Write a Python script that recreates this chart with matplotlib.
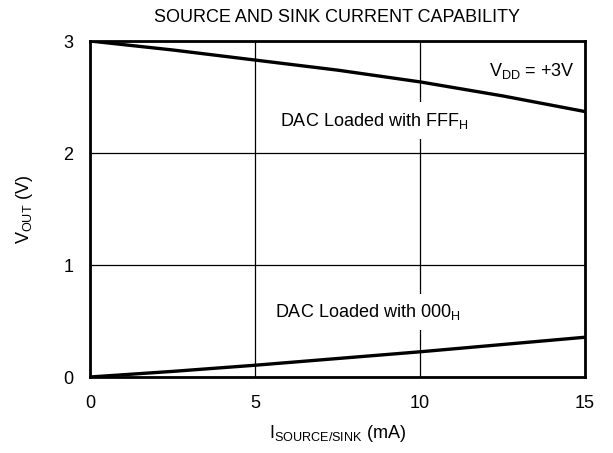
"""Source and sink current capability chart."""

import matplotlib
import matplotlib.pyplot as plt

matplotlib.use("Agg")

plt.rcParams["font.family"] = ["Liberation Sans", "DejaVu Sans"]

current_ma = [0, 2.5, 5, 7.5, 10, 12.5, 15]
vout_fff = [3.0, 2.92, 2.83, 2.74, 2.635, 2.51, 2.37]
vout_000 = [0.0, 0.05, 0.105, 0.165, 0.225, 0.29, 0.355]

x_ticks = [0, 5, 10, 15]
y_ticks = [0, 1, 2, 3]

FS = 13


def main(output_path: str = "out.png") -> None:
    fig = plt.figure(figsize=(6.13, 4.53), dpi=100)
    # axes box: x 90..585 px, y 41..377 px
    ax = fig.add_axes([90 / 613, 1 - 377 / 453, 495 / 613, 336 / 453])

    ax.plot(current_ma, vout_fff, color="black", lw=2.4, zorder=3,
            solid_capstyle="butt")
    ax.plot(current_ma, vout_000, color="black", lw=2.4, zorder=3,
            solid_capstyle="butt")

    ax.set_xlim(0, 15)
    ax.set_ylim(0, 3)
    ax.set_xticks(x_ticks)
    ax.set_yticks(y_ticks)
    ax.tick_params(length=0, labelsize=FS)
    ax.tick_params(axis="x", pad=13)
    ax.tick_params(axis="y", pad=12)
    ax.grid(True, color="black", lw=0.9)
    for s in ax.spines.values():
        s.set_linewidth(2)

    box = dict(facecolor="white", edgecolor="none", pad=6)
    ax.text(13.4, 2.73, r"V$_{\mathregular{DD}}$ = +3V", ha="center",
            va="center", fontsize=FS, bbox=box, zorder=4)
    ax.text(8.6, 2.29, r"DAC Loaded with FFF$_{\mathregular{H}}$",
            ha="center", va="center", fontsize=FS, bbox=box, zorder=4)
    ax.text(8.4, 0.58, r"DAC Loaded with 000$_{\mathregular{H}}$",
            ha="center", va="center", fontsize=FS, bbox=box, zorder=4)

    ax.set_title("SOURCE AND SINK CURRENT CAPABILITY", fontsize=FS, pad=14)
    ax.set_xlabel(r"I$_{\mathregular{SOURCE/SINK}}$ (mA)", fontsize=FS,
                  labelpad=8)
    ax.set_ylabel(r"V$_{\mathregular{OUT}}$ (V)", fontsize=FS, labelpad=20)

    fig.savefig(output_path, dpi=100)
    plt.close(fig)


if __name__ == "__main__":
    main()
